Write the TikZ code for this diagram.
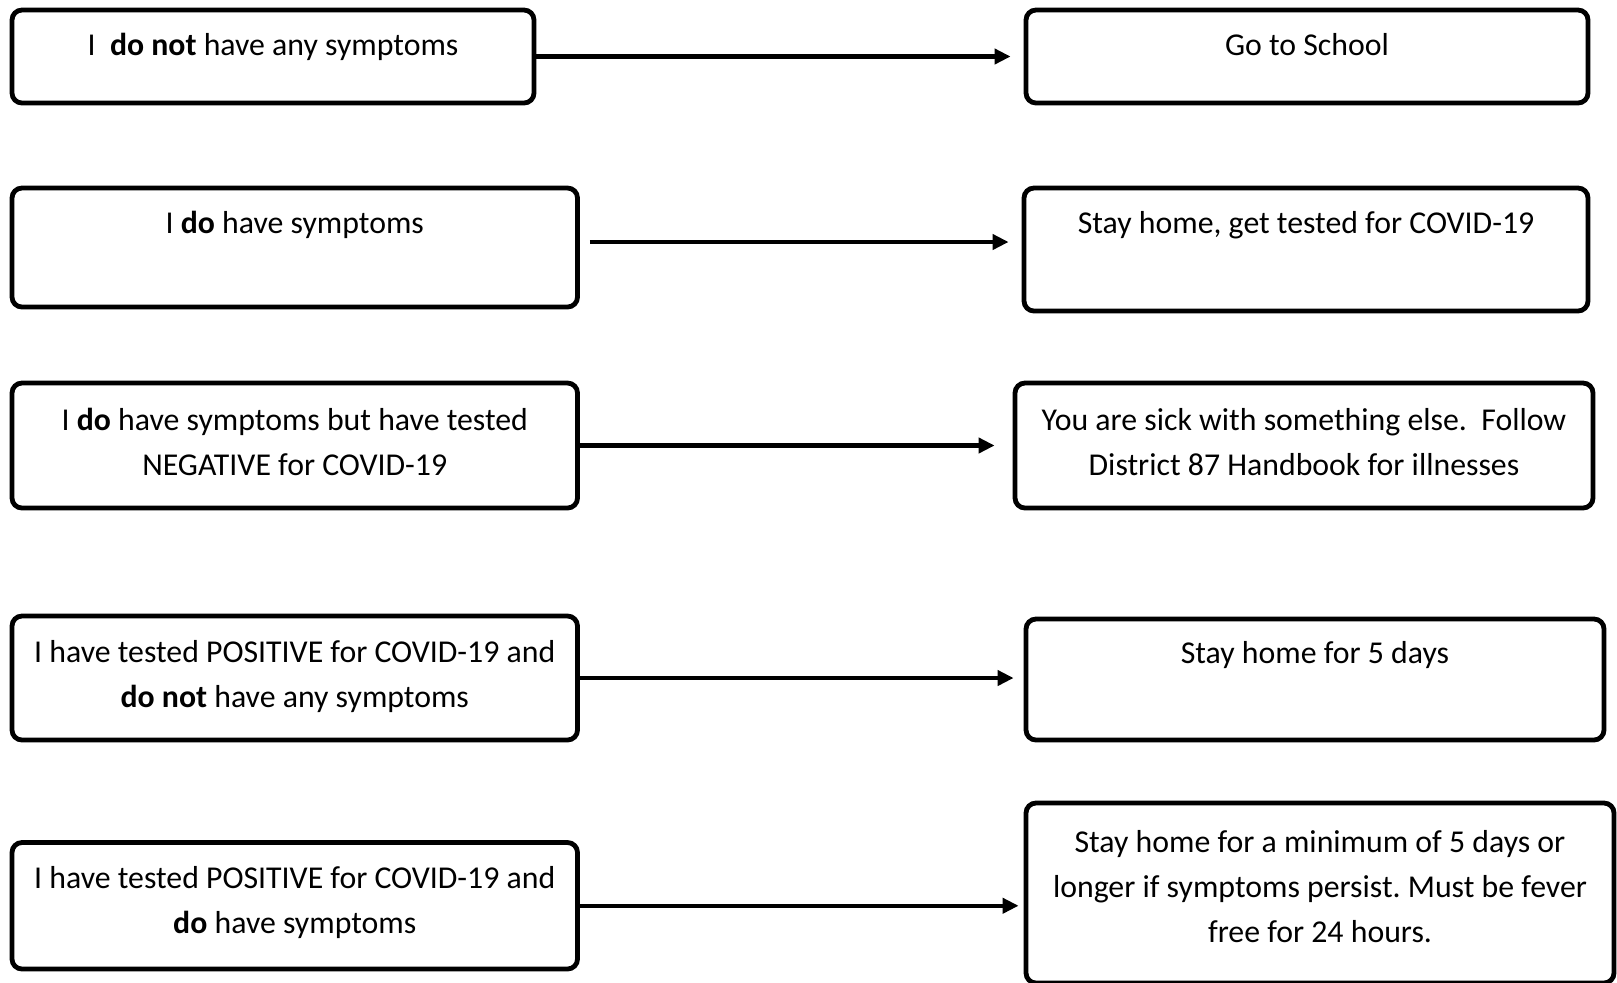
\documentclass[tikz,border=0pt]{standalone}
\usepackage{fontspec}
\setmainfont{Carlito}
\usetikzlibrary{positioning,arrows.meta}
\frenchspacing

\tikzset{
  box/.style={draw, line width=2.4pt, rounded corners=5pt, inner sep=0pt},
  txt/.style={inner sep=0pt, align=center},
  arr/.style={line width=2.2pt, -{Triangle[length=8pt,width=7.5pt]}}
}

\begin{document}
\begin{tikzpicture}[x=0.5pt,y=-0.5pt,font=\fontsize{15.9}{22.5}\selectfont]
\useasboundingbox (0,0) rectangle (1617,982);

% left column: situation
\node[box, minimum width=261pt, minimum height=46.5pt] (l1) at (273,56.5) {};
\node[box, minimum width=282.75pt, minimum height=59.5pt] (l2) at (294.75,247.5) {};
\node[box, minimum width=282.75pt, minimum height=62.5pt] (l3) at (294.75,445.5) {};
\node[box, minimum width=282.75pt, minimum height=62pt] (l4) at (294.75,678) {};
\node[box, minimum width=282.75pt, minimum height=63.25pt] (l5) at (294.75,905.75) {};

\node[txt, below=12.5pt of l1.north] (tl1) {I~\ \textbf{do not} have any symptoms};
\node[txt, below=12.5pt of l2.north] (tl2) {I \textbf{do} have symptoms};
\node[txt, below=13.5pt of l3.north] (tl3) {I \textbf{do} have symptoms but have tested\\NEGATIVE for COVID-19};
\node[txt, below=13pt of l4.north] (tl4) {I have tested POSITIVE for COVID-19 and\\\textbf{do not} have any symptoms};
\node[txt, below=13pt of l5.north] (tl5) {I have tested POSITIVE for COVID-19 and\\\textbf{do} have symptoms};

% right column: what to do
\node[box, minimum width=281pt, minimum height=46.5pt] (r1) at (1307,56.5) {};
\node[box, minimum width=282pt, minimum height=61.5pt] (r2) at (1306,249.5) {};
\node[box, minimum width=289pt, minimum height=62.5pt] (r3) at (1304,445.5) {};
\node[box, minimum width=289pt, minimum height=60.5pt] (r4) at (1315,679.5) {};
\node[box, minimum width=294pt, minimum height=90pt] (r5) at (1320,893) {};

\node[txt, below=12.5pt of r1.north] (tr1) {Go to School};
\node[txt, below=12.5pt of r2.north] (tr2) {Stay home, get tested for COVID-19};
\node[txt, below=13.5pt of r3.north] (tr3) {You are sick with something else.~\ Follow\\District 87 Handbook for illnesses};
\node[txt, below=12pt of r4.north] (tr4) {Stay home for 5 days};
\node[txt, below=14.5pt of r5.north] (tr5) {Stay home for a minimum of 5 days or\\longer if symptoms persist. Must be fever\\free for 24 hours.};

% arrows
\draw[arr, shorten >=6.5pt] (l1.east) -- (l1.east -| r1.west);
\draw[arr, shorten <=5pt, shorten >=6.5pt] ([yshift=2.75pt]l2.east) -- ([yshift=2.75pt]l2.east -| r2.west);
\draw[arr, shorten >=9pt] (l3.east) -- (l3.east -| r3.west);
\draw[arr, shorten >=5pt] (l4.east) -- (l4.east -| r4.west);
\draw[arr, shorten >=2.5pt] (l5.east) -- (l5.east -| r5.west);

\end{tikzpicture}
\end{document}
